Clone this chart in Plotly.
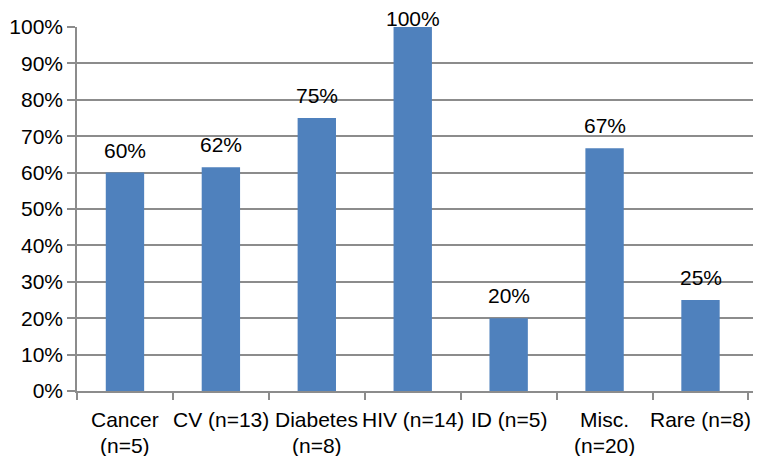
import plotly.graph_objects as go

categories = ["Cancer<br>(n=5)", "CV (n=13)", "Diabetes<br>(n=8)", "HIV (n=14)",
              "ID (n=5)", "Misc.<br>(n=20)", "Rare (n=8)"]
values = [0.60, 0.615, 0.75, 1.00, 0.20, 0.667, 0.25]
y_ticks = [0, 0.1, 0.2, 0.3, 0.4, 0.5, 0.6, 0.7, 0.8, 0.9, 1.0]

font = dict(family="Liberation Sans, Arial, sans-serif", size=21, color="black")
grey = "#8c8c8c"

W, H = 764, 456
M = dict(l=77, r=11, t=27, b=65)
plot_h = H - M["t"] - M["b"]

fig = go.Figure(go.Bar(
    x=categories, y=values,
    marker=dict(color="#4F81BD", line=dict(width=0)),
    cliponaxis=False,
))

annotations = []
for cat, v in zip(categories, values):
    # keep the value label inside the chart when the bar reaches the top
    room = (1 - v) * plot_h + M["t"] - 32
    annotations.append(dict(x=cat, y=v, xref="x", yref="y", text=f"{v:.0%}",
                            showarrow=False, yanchor="bottom",
                            yshift=min(9, room), font=font))
    for i, line in enumerate(cat.split("<br>")):
        annotations.append(dict(x=cat, y=0, xref="x", yref="y", text=line,
                                showarrow=False, yanchor="middle",
                                yshift=-28 - 26 * i, font=font))

fig.update_layout(
    width=W, height=H,
    margin=dict(**M, autoexpand=False),
    paper_bgcolor="white", plot_bgcolor="white",
    font=font, bargap=0.6, showlegend=False,
    annotations=annotations,
)
fig.update_xaxes(
    automargin=False, showticklabels=False,
    showline=True, linecolor=grey, linewidth=1.5,
    ticks="outside", tickson="boundaries", ticklen=7, tickcolor=grey, tickwidth=1.5,
    showgrid=False,
)
fig.update_yaxes(
    automargin=False,
    range=[0, 1], tickvals=y_ticks, tickformat=".0%",
    showline=True, linecolor=grey, linewidth=1.5,
    ticks="outside", ticklen=8, tickcolor=grey, tickwidth=1.5,
    showgrid=True, gridcolor=grey, gridwidth=1.5, zeroline=False, tickfont=font,
)

fig.write_html("out.html", config={"displayModeBar": False},
               post_script="document.body.style.margin='0px';document.body.style.overflow='hidden';")
